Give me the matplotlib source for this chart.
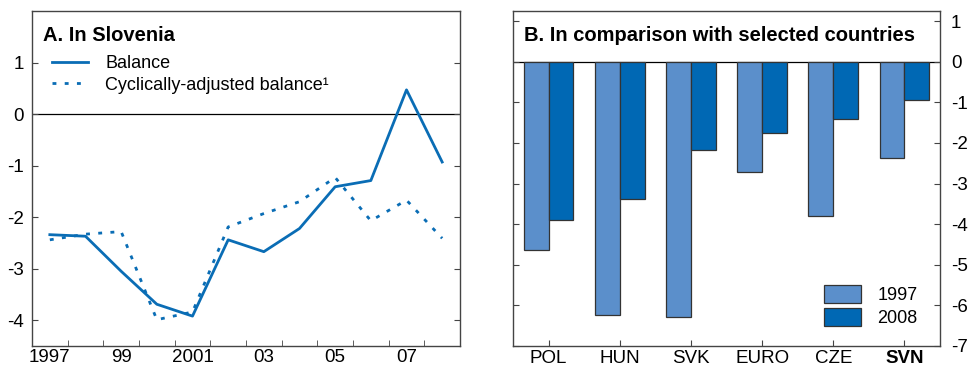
import numpy as np
import matplotlib.pyplot as plt

plt.rcParams['font.family'] = ['Liberation Sans', 'DejaVu Sans']

# Panel A data
years = ['1997', '1998', '1999', '2000', '2001', '2002', '2003', '2004', '2005', '2006', '2007', '2008']
balance = [-2.34, -2.37, -3.05, -3.69, -3.92, -2.44, -2.67, -2.22, -1.41, -1.29, 0.47, -0.93]
cyc_balance = [-2.44, -2.33, -2.28, -3.99, -3.84, -2.19, -1.93, -1.70, -1.23, -2.07, -1.67, -2.41]
year_labels = ['1997', '99', '2001', '03', '05', '07']

# Panel B data
countries = ['POL', 'HUN', 'SVK', 'EURO', 'CZE', 'SVN']
val_1997 = [-4.63, -6.23, -6.29, -2.72, -3.79, -2.37]
val_2008 = [-3.89, -3.38, -2.18, -1.75, -1.40, -0.93]

line_col = '#0A6DB5'
light = '#5B8FCB'
dark = '#0068B4'
spine_col = '#444444'

fig = plt.figure(figsize=(9.7, 3.68), dpi=100)
ax1 = fig.add_axes([32/970, 22/368, 428/970, 335/368])
ax2 = fig.add_axes([513/970, 22/368, 427/970, 335/368])

for ax in (ax1, ax2):
    for s in ax.spines.values():
        s.set_color(spine_col)
        s.set_linewidth(1.0)
    ax.axhline(0, color='black', lw=0.9, zorder=1)

# ---- Panel A
x = np.arange(len(years))
ax1.plot(x, balance, color=line_col, lw=2.0, label='Balance', zorder=3)
ax1.plot(x, cyc_balance, color=line_col, lw=2.0, linestyle=(0, (1.4, 3.0)),
         label='Cyclically-adjusted balance\u00b9', zorder=3)
ax1.set_xlim(-0.5, 11.5)
ax1.set_ylim(-4.5, 2)
ax1.set_yticks([-4, -3, -2, -1, 0, 1])
ax1.set_yticklabels(['-4', '-3', '-2', '-1', '0', '1'])
ax1.tick_params(axis='y', direction='in', left=True, right=True, labelsize=13.5,
                length=4, color=spine_col, pad=6)
ax1.set_xticks(np.arange(0, 12, 2))
ax1.set_xticklabels(year_labels)
ax1.set_xticks(np.arange(0.5, 11, 1), minor=True)
ax1.tick_params(axis='x', which='major', length=0, labelsize=13.5, pad=2)
ax1.tick_params(axis='x', which='minor', direction='in', length=4, color=spine_col)
ax1.text(0.026, 0.955, 'A. In Slovenia', transform=ax1.transAxes, fontsize=14.5,
         fontweight='bold', va='top', ha='left')
ax1.legend(loc='upper left', bbox_to_anchor=(0.03, 0.89), frameon=False, fontsize=13,
           handlelength=2.0, handletextpad=0.95, labelspacing=0.25, borderaxespad=0)

# ---- Panel B
xb = np.arange(len(countries))
w = 0.35
ax2.bar(xb - w/2, val_1997, width=w, color=light, edgecolor='#333333', lw=0.9,
        label='1997', zorder=2)
ax2.bar(xb + w/2, val_2008, width=w, color=dark, edgecolor='#333333', lw=0.9,
        label='2008', zorder=2)
ax2.set_xlim(-0.5, 5.5)
ax2.set_ylim(-7, 1.25)
ax2.set_yticks(range(-7, 2))
ax2.set_yticklabels([str(v) for v in range(-7, 2)])
ax2.yaxis.tick_right()
ax2.tick_params(axis='y', direction='in', left=True, right=True, labelleft=False,
                labelright=True, labelsize=13.5, length=4, color=spine_col, pad=8)
ax2.set_xticks(xb)
ax2.set_xticklabels(countries)
ax2.tick_params(axis='x', direction='in', length=4, color=spine_col, labelsize=13.5, pad=3)
ax2.get_xticklabels()[-1].set_fontweight('bold')
ax2.text(0.026, 0.955, 'B. In comparison with selected countries', transform=ax2.transAxes,
         fontsize=14.5, fontweight='bold', va='top', ha='left')
ax2.legend(loc='lower right', bbox_to_anchor=(0.965, 0.036), frameon=False, fontsize=13,
           handlelength=2.05, handleheight=1.15, handletextpad=0.9, labelspacing=0.22,
           borderaxespad=0)

fig.savefig('out.png', dpi=100)
